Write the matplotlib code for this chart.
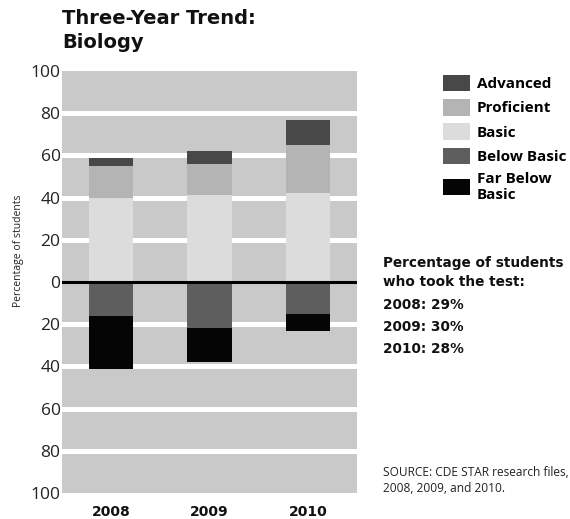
import matplotlib
matplotlib.use("Agg")
import matplotlib.pyplot as plt
from matplotlib.ticker import FixedLocator, FuncFormatter
import numpy as np

# Share of students at each performance level, by year
years = ["2008", "2009", "2010"]
levels_above = ["Basic", "Proficient", "Advanced"]
levels_below = ["Below Basic", "Far Below Basic"]
basic = [40, 41, 42]
proficient = [15, 15, 23]
advanced = [4, 6, 12]
below_basic = [16, 22, 15]
far_below_basic = [25, 16, 8]
tested_share = ["29%", "30%", "28%"]

colors = {
    "Advanced": "#484848",
    "Proficient": "#b4b4b4",
    "Basic": "#dcdcdc",
    "Below Basic": "#5e5e5e",
    "Far Below Basic": "#050505",
}
band_color = "#c9c9c9"
heavy = ["DejaVu Sans"]

plt.rcParams["font.family"] = ["Open Sans", "DejaVu Sans"]

fig = plt.figure(figsize=(5.70, 5.19), dpi=100)
ax = fig.add_axes([62 / 570, 1 - 493 / 519, 295 / 570, 422 / 519])
ax.set_facecolor(band_color)

x = np.arange(len(years))
w = 0.45

# white separators between the grey bands
for v in [-80, -60, -40, -20, 20, 40, 60, 80]:
    ax.axhline(v, color="white", lw=3.6, zorder=1)

bottom = np.zeros(len(years))
handles = {}
for name, vals in zip(levels_above, [basic, proficient, advanced]):
    h = ax.bar(x, vals, w, bottom=bottom, color=colors[name], zorder=2, linewidth=0)
    handles[name] = h
    bottom += np.array(vals)

bottom = np.zeros(len(years))
for name, vals in zip(levels_below, [below_basic, far_below_basic]):
    h = ax.bar(x, -np.array(vals), w, bottom=bottom, color=colors[name], zorder=2, linewidth=0)
    handles[name] = h
    bottom -= np.array(vals)

ax.axhline(0, color="black", lw=2.2, zorder=3)

ax.set_xlim(-0.5, 2.5)
ax.set_ylim(-100, 100)
ax.yaxis.set_major_locator(FixedLocator(np.arange(-100, 101, 20)))
ax.yaxis.set_major_formatter(FuncFormatter(lambda v, p: f"{abs(int(round(v)))}"))
ax.set_xticks(x)
ax.set_xticklabels(years, fontweight="bold", fontsize=10, color="#111111",
                   family=heavy)
ax.tick_params(axis="both", length=0)
ax.tick_params(axis="y", labelsize=12.5, labelcolor="#222222", pad=1)
ax.tick_params(axis="x", pad=9)
for s in ax.spines.values():
    s.set_visible(False)

ax.set_ylabel("Percentage of students", fontsize=7.5, color="#222222")
ax.yaxis.set_label_coords(-0.13, 0.575)

# Title
fig.text(62 / 570, 1 - 18 / 519, "Three-Year Trend:", fontsize=14, fontweight="bold",
         family=heavy, va="center", ha="left", color="#111111")
fig.text(62 / 570, 1 - 43 / 519, "Biology", fontsize=14, fontweight="bold",
         family=heavy, va="center", ha="left", color="#111111")

# Legend
order = ["Advanced", "Proficient", "Basic", "Below Basic", "Far Below Basic"]
labels = ["Advanced", "Proficient", "Basic", "Below Basic", "Far Below\nBasic"]
leg = fig.legend([handles[k] for k in order], labels,
                 loc="upper left", bbox_to_anchor=(432 / 570, 1 - 64 / 519),
                 frameon=False, handlelength=1.8, handleheight=1.3,
                 handletextpad=0.45, labelspacing=0.5, borderaxespad=0.3,
                 prop={"weight": "bold", "size": 11})
for t in leg.get_texts():
    t.set_linespacing(1.15)

# Share of students tested
tx = 383 / 570
fig.text(tx, 1 - 263 / 519, "Percentage of students", fontsize=9.8, fontweight="bold",
         family=heavy, va="center", ha="left", color="#111111")
fig.text(tx, 1 - 282 / 519, "who took the test:", fontsize=9.8, fontweight="bold",
         family=heavy, va="center", ha="left", color="#111111")
for i, (yr, pct) in enumerate(zip(years, tested_share)):
    fig.text(tx, 1 - (305 + 22 * i) / 519, f"{yr}: {pct}", fontsize=9.8, fontweight="bold",
             family=heavy, va="center", ha="left", color="#111111")

fig.text(tx, 1 - 473 / 519, "SOURCE: CDE STAR research files,", fontsize=8.6,
         va="center", ha="left", color="#222222")
fig.text(tx, 1 - 488 / 519, "2008, 2009, and 2010.", fontsize=8.6,
         va="center", ha="left", color="#222222")

fig.savefig("out.png", dpi=100)
